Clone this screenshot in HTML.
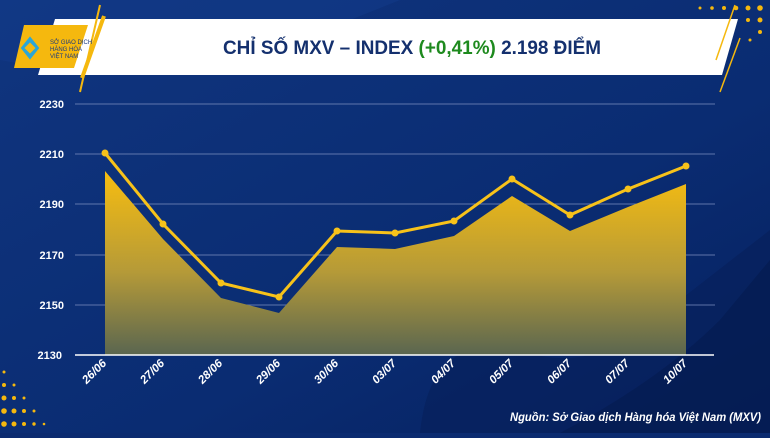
<!DOCTYPE html>
<html><head><meta charset="utf-8"><style>
body{margin:0;width:770px;height:433px;overflow:hidden;background:#0b2b70;font-family:"Liberation Sans",sans-serif}
</style></head><body>
<svg width="770" height="433" viewBox="0 0 770 433" xmlns="http://www.w3.org/2000/svg">
<defs>
<linearGradient id="bg" x1="0" y1="0" x2="1" y2="1">
<stop offset="0" stop-color="#10357f"/><stop offset="0.6" stop-color="#0a2c72"/><stop offset="1" stop-color="#06205e"/></linearGradient>
<linearGradient id="ar" x1="0" y1="0" x2="0" y2="1">
<stop offset="0" stop-color="#f7bd10"/><stop offset="0.55" stop-color="#b59a38"/><stop offset="1" stop-color="#5a6650"/></linearGradient>
</defs>
<rect width="770" height="433" fill="url(#bg)"/>
<path d="M0 60 Q150 90 300 40 L400 0 L0 0Z" fill="#123a88" opacity="0.6"/>
<path d="M420 433 Q430 330 520 350 Q600 380 680 300 L770 230 L770 433Z" fill="#07215c" opacity="0.7"/>
<path d="M560 433 Q660 380 720 320 L770 260 L770 433Z" fill="#051a4e" opacity="0.6"/>
<g fill="#f5b80e">
<circle cx="700" cy="8" r="1.5"/><circle cx="712" cy="8" r="1.8"/><circle cx="724" cy="8" r="2"/><circle cx="736" cy="8" r="2.3"/><circle cx="748" cy="8" r="2.5"/><circle cx="760" cy="8" r="2.8"/>
<circle cx="748" cy="20" r="2"/><circle cx="760" cy="20" r="2.5"/><circle cx="760" cy="32" r="2"/><circle cx="750" cy="40" r="1.5"/>
<circle cx="4" cy="372" r="1.5"/><circle cx="4" cy="385" r="2"/><circle cx="14" cy="385" r="1.5"/><circle cx="4" cy="398" r="2.5"/><circle cx="14" cy="398" r="2"/><circle cx="24" cy="398" r="1.5"/>
<circle cx="4" cy="411" r="2.8"/><circle cx="14" cy="411" r="2.5"/><circle cx="24" cy="411" r="2"/><circle cx="34" cy="411" r="1.5"/>
<circle cx="4" cy="424" r="2.8"/><circle cx="14" cy="424" r="2.5"/><circle cx="24" cy="424" r="2"/><circle cx="34" cy="424" r="1.7"/><circle cx="44" cy="424" r="1.3"/>
</g>
<polygon points="55,19 738,19 722,75 38,75" fill="#fff"/>
<polygon points="24,25 88,25 74,68 14,68" fill="#f5b80e"/>
<line x1="100" y1="5" x2="80" y2="92" stroke="#f5b80e" stroke-width="2"/>
<line x1="104" y1="16" x2="82" y2="78" stroke="#f5b80e" stroke-width="4"/>
<line x1="735" y1="5" x2="716" y2="60" stroke="#f5b80e" stroke-width="1.5"/>
<line x1="740" y1="38" x2="720" y2="92" stroke="#f5b80e" stroke-width="1.5"/>
<text x="50" y="44" font-size="6" fill="#1a3a80">SỞ GIAO DỊCH</text>
<text x="50" y="51" font-size="6" fill="#1a3a80">HÀNG HÓA</text>
<text x="50" y="58" font-size="6" fill="#1a3a80">VIỆT NAM</text>
<path d="M22 48 L30 38 L38 48 L30 58Z M30 41 L37 48 L30 55 L23 48Z" fill="none" stroke="#2aa6d8" stroke-width="2"/>
<text x="412" y="54" font-size="19" font-weight="bold" fill="#14306e" text-anchor="middle" textLength="378" lengthAdjust="spacingAndGlyphs">CHỈ SỐ MXV – INDEX <tspan fill="#1e8a1e">(+0,41%)</tspan> 2.198 ĐIỂM</text>
<g stroke="#7d8fbf" stroke-width="0.8">
<line x1="75" y1="104" x2="715" y2="104"/><line x1="75" y1="154" x2="715" y2="154"/><line x1="75" y1="204" x2="715" y2="204"/><line x1="75" y1="255" x2="715" y2="255"/><line x1="75" y1="305" x2="715" y2="305"/>
</g>
<g font-size="11" font-weight="bold" fill="#fff" text-anchor="end">
<text x="64" y="108">2230</text><text x="64" y="158">2210</text><text x="64" y="208">2190</text><text x="64" y="259">2170</text><text x="64" y="309">2150</text><text x="62" y="359">2130</text>
</g>
<polygon points="105,171 163,239 221,298 279,313 337,247 395,249 454,236 512,196 570,231 628,207 686,184 686,355 105,355" fill="url(#ar)"/>
<line x1="75" y1="355" x2="714" y2="355" stroke="#fff" stroke-width="1.5"/>
<polyline points="105,153 163,224 221,283 279,297 337,231 395,233 454,221 512,179 570,215 628,189 686,166" fill="none" stroke="#f7c21a" stroke-width="3"/>
<g fill="#f7c21a">
<circle cx="105" cy="153" r="3.5"/><circle cx="163" cy="224" r="3.5"/><circle cx="221" cy="283" r="3.5"/><circle cx="279" cy="297" r="3.5"/><circle cx="337" cy="231" r="3.5"/><circle cx="395" cy="233" r="3.5"/><circle cx="454" cy="221" r="3.5"/><circle cx="512" cy="179" r="3.5"/><circle cx="570" cy="215" r="3.5"/><circle cx="628" cy="189" r="3.5"/><circle cx="686" cy="166" r="3.5"/>
</g>
<g font-size="11.5" font-weight="bold" fill="#fff" font-style="italic" text-anchor="end">
<text transform="translate(107,364) rotate(-45)">26/06</text>
<text transform="translate(165,364) rotate(-45)">27/06</text>
<text transform="translate(223,364) rotate(-45)">28/06</text>
<text transform="translate(281,364) rotate(-45)">29/06</text>
<text transform="translate(339,364) rotate(-45)">30/06</text>
<text transform="translate(397,364) rotate(-45)">03/07</text>
<text transform="translate(456,364) rotate(-45)">04/07</text>
<text transform="translate(514,364) rotate(-45)">05/07</text>
<text transform="translate(572,364) rotate(-45)">06/07</text>
<text transform="translate(630,364) rotate(-45)">07/07</text>
<text transform="translate(688,364) rotate(-45)">10/07</text>
</g>
<text x="510" y="421" font-size="11.5" font-weight="bold" font-style="italic" fill="#fff" textLength="251" lengthAdjust="spacingAndGlyphs">Nguồn: Sở Giao dịch Hàng hóa Việt Nam (MXV)</text>
</svg>
</body></html>
